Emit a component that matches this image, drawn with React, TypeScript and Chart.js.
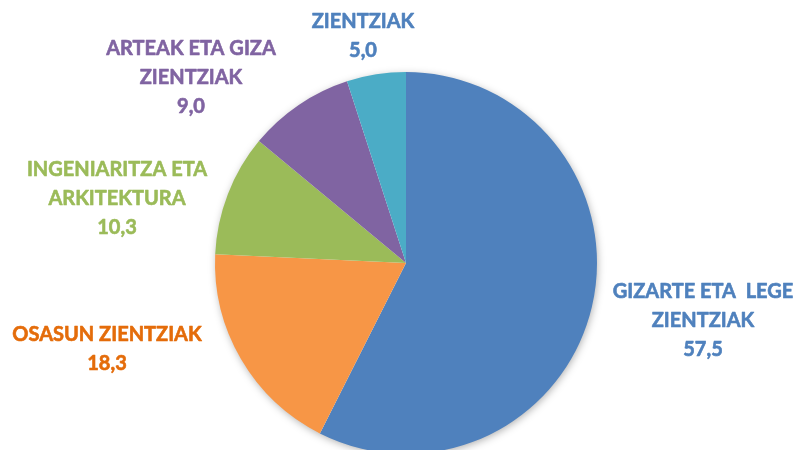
import React, { useEffect, useRef } from "react";
import { Chart, registerables } from "chart.js";

Chart.register(...registerables);

const categories: string[][] = [
  ["GIZARTE ETA  LEGE", "ZIENTZIAK"],
  ["OSASUN ZIENTZIAK"],
  ["INGENIARITZA ETA", "ARKITEKTURA"],
  ["ARTEAK ETA GIZA", "ZIENTZIAK"],
  ["ZIENTZIAK"],
];
const values: number[] = [57.5, 18.3, 10.3, 9.0, 5.0];
const valueLabels: string[] = ["57,5", "18,3", "10,3", "9,0", "5,0"];
const sliceColors: string[] = ["#4F81BD", "#F79646", "#9BBB59", "#8064A2", "#4BACC6"];
const labelColors: string[] = ["#4F81BD", "#E46C0A", "#9BBB59", "#8064A2", "#4F81BD"];
// label block centre offsets from the pie centre (px)
const labelOffsets: [number, number][] = [
  [297, 58],
  [-299, 86],
  [-289, -64],
  [-215, -185],
  [-43, -227],
];

const FONT = "bold 20px Lato, 'Open Sans', sans-serif";
const LINE_H = 29;

const shadowPlugin = {
  id: "pieShadow",
  beforeDatasetsDraw(chart: any) {
    const meta = chart.getDatasetMeta(0);
    const arc = meta.data[0];
    if (!arc) return;
    const { x, y, outerRadius } = arc.getProps(["x", "y", "outerRadius"], true);
    const ctx = chart.ctx;
    ctx.save();
    ctx.shadowColor = "rgba(0,0,0,0.35)";
    ctx.shadowBlur = 9;
    ctx.shadowOffsetX = 1;
    ctx.shadowOffsetY = 2;
    ctx.fillStyle = "#ffffff";
    ctx.beginPath();
    ctx.arc(x, y, outerRadius - 1, 0, Math.PI * 2);
    ctx.fill();
    ctx.restore();
  },
};

const labelPlugin = {
  id: "pieLabels",
  afterDatasetsDraw(chart: any) {
    const meta = chart.getDatasetMeta(0);
    const ctx = chart.ctx;
    ctx.save();
    ctx.font = FONT;
    ctx.textAlign = "center";
    ctx.textBaseline = "middle";
    ctx.lineWidth = 0.6;
    ctx.lineJoin = "round";
    meta.data.forEach((arc: any, i: number) => {
      const { x, y } = arc.getProps(["x", "y"], true);
      const lines = [...categories[i], valueLabels[i]];
      const cx = x + labelOffsets[i][0];
      const cy = y + labelOffsets[i][1];
      const top = cy - ((lines.length - 1) * LINE_H) / 2;
      ctx.fillStyle = labelColors[i];
      ctx.strokeStyle = labelColors[i];
      lines.forEach((ln, j) => {
        ctx.fillText(ln, cx, top + j * LINE_H);
        ctx.strokeText(ln, cx, top + j * LINE_H);
      });
    });
    ctx.restore();
  },
};

export default function App() {
  const ref = useRef<HTMLCanvasElement | null>(null);
  useEffect(() => {
    document.body.style.margin = "0";
    if (!ref.current) return;
    const chart = new Chart(ref.current, {
      type: "pie",
      data: {
        labels: categories.map((c) => c.join(" ")),
        datasets: [
          {
            data: values,
            backgroundColor: sliceColors,
            borderWidth: 0,
          },
        ],
      },
      options: {
        animation: false,
        responsive: false,
        layout: { padding: { top: 72, bottom: 6, left: 15, right: 0 } },
        plugins: {
          legend: { display: false },
          tooltip: { enabled: false },
        },
      },
      plugins: [shadowPlugin, labelPlugin],
    });
    return () => chart.destroy();
  }, []);
  return (
    <div style={{ width: 797, height: 450, overflow: "hidden", background: "#fff" }}>
      <canvas ref={ref} width={797} height={460} style={{ display: "block" }} />
    </div>
  );
}
